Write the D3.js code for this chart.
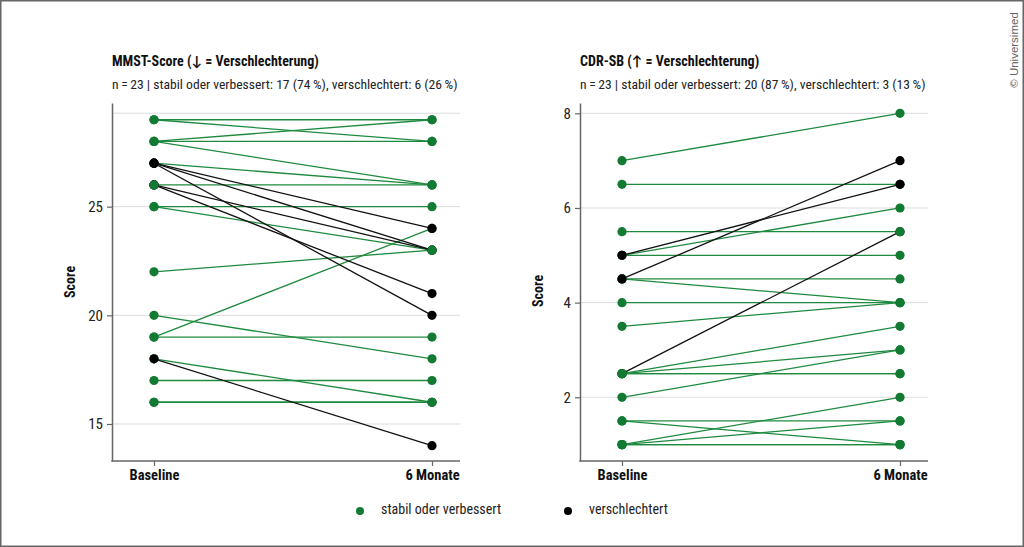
<!DOCTYPE html>
<html>
<head>
<meta charset="utf-8">
<script src="https://cdn.jsdelivr.net/npm/d3@7/dist/d3.min.js"></script>
<style>
    body { margin: 0; background: #fff; }
    text { font-family: "Liberation Sans Narrow", "Arial Narrow", "Roboto Condensed", Lato, sans-serif; }
</style>
</head>
<body>
<div class="chart-container"></div>
<script>
// Data
const timepoints = ["Baseline", "6 Monate"]

const mmstBaseline = [29, 29, 28, 28, 28, 27, 27, 26, 26, 26, 25, 25, 22, 19, 27, 27, 20, 19, 18, 18, 17, 16, 16]
const mmstMonth6   = [29, 28, 29, 28, 26, 26, 23, 23, 21, 26, 25, 23, 23, 24, 24, 20, 18, 19, 16, 14, 17, 16, 16]
const mmstStatus   = ["s", "s", "s", "s", "s", "s", "v", "v", "v", "s", "s", "s", "s", "s", "v", "v", "s", "s", "s", "v", "s", "s", "s"]

const cdrBaseline = [7, 6.5, 2.5, 5.5, 5, 5, 5, 4.5, 4.5, 4.5, 4, 3.5, 2.5, 2.5, 2.5, 2, 1.5, 1.5, 1, 1, 1, 1, 2.5]
const cdrMonth6   = [8, 6.5, 5.5, 5.5, 6, 5, 6.5, 4.5, 4, 7, 4, 4, 3.5, 3, 2.5, 3, 1.5, 1, 2, 1.5, 1, 1, 2.5]
const cdrStatus   = ["s", "s", "v", "s", "s", "s", "v", "s", "s", "v", "s", "s", "s", "s", "s", "s", "s", "s", "s", "s", "s", "s", "s"]

const mmstTicks = [15, 20, 25]
const mmstGrid = [15, 20, 25, 29.3]
const cdrTicks = [2, 4, 6, 8]

const legendKeys = ["s", "v"]
const legendLabels = ["stabil oder verbessert", "verschlechtert"]

let dimensions = {
    width: 1024,
    height: 547
}

const dotColor = { s: "#127a32", v: "#000000" }
const lineColor = { s: "#1f8a3f", v: "#111111" }

const svg = d3.select(".chart-container")
    .append('svg')
    .attr('width', dimensions.width)
    .attr('height', dimensions.height)

// Frame
svg.append('rect')
    .attr('x', 0.75)
    .attr('y', 0.75)
    .attr('width', dimensions.width - 1.5)
    .attr('height', dimensions.height - 1.5)
    .attr('fill', 'none')
    .attr('stroke', '#666')
    .attr('stroke-width', 1.5)

function drawPanel(cfg) {
    const data = cfg.baseline.map((b, i) => ({ b: b, m: cfg.month6[i], status: cfg.status[i] }))

    const yScale = d3.scaleLinear()
        .domain(cfg.domain)
        .range([cfg.bottom, cfg.top])

    const xScale = d3.scalePoint()
        .domain(timepoints)
        .range([cfg.left + 42, cfg.right - 28])

    const g = svg.append('g')

// Grid
    g.selectAll('.grid')
        .data(cfg.grid)
        .join('line')
        .attr('class', 'grid')
        .attr('x1', cfg.left)
        .attr('x2', cfg.right)
        .attr('y1', d => yScale(d))
        .attr('y2', d => yScale(d))
        .attr('stroke', '#dcdcdc')
        .attr('stroke-width', 1)

// Y Axis and Label
    const yAxis = d3.axisLeft(yScale)
        .tickValues(cfg.ticks)
        .tickSize(5)
        .tickSizeOuter(0)
        .tickPadding(4)

    const yAxisGroup = g.append('g')
        .attr('transform', `translate(${cfg.left},0)`)
        .call(yAxis)
    yAxisGroup.select('.domain').attr('stroke', '#666').attr('stroke-width', 1.5)
    yAxisGroup.selectAll('.tick line').attr('stroke', '#666').attr('stroke-width', 1.2)
    yAxisGroup.selectAll('.tick text')
        .attr('font-size', '15px')
        .attr('fill', '#222')

    g.append('text')
        .attr('transform', `translate(${cfg.left - 37},${cfg.labelY}) rotate(-90)`)
        .attr('font-size', '14px')
        .attr('font-weight', 'bold')
        .attr('text-anchor', 'middle')
        .attr('fill', '#111')
        .text('Score')

// X Axis
    const xAxis = d3.axisBottom(xScale)
        .tickSize(5)
        .tickSizeOuter(0)
        .tickPadding(4)

    const xAxisGroup = g.append('g')
        .attr('transform', `translate(0,${cfg.bottom})`)
        .call(xAxis)
    xAxisGroup.select('.domain').remove()
    xAxisGroup.selectAll('.tick line').attr('stroke', '#666').attr('stroke-width', 1.2)
    xAxisGroup.selectAll('.tick text')
        .attr('font-size', '14.5px')
        .attr('font-weight', 'bold')
        .attr('fill', '#111')

    g.append('line')
        .attr('x1', cfg.left - 0.75)
        .attr('x2', cfg.right)
        .attr('y1', cfg.bottom)
        .attr('y2', cfg.bottom)
        .attr('stroke', '#666')
        .attr('stroke-width', 1.5)

// Lines (green first, black on top)
    const sorted = data.filter(d => d.status === 's').concat(data.filter(d => d.status === 'v'))
    g.selectAll('.pair')
        .data(sorted)
        .join('line')
        .attr('class', 'pair')
        .attr('x1', xScale(timepoints[0]))
        .attr('x2', xScale(timepoints[1]))
        .attr('y1', d => yScale(d.b))
        .attr('y2', d => yScale(d.m))
        .attr('stroke', d => lineColor[d.status])
        .attr('stroke-width', 1.3)

// Dots
    const dots = []
    data.forEach(d => {
        dots.push({ t: timepoints[0], v: d.b, status: d.status })
        dots.push({ t: timepoints[1], v: d.m, status: d.status })
    })
    g.selectAll('.dot')
        .data(dots)
        .join('circle')
        .attr('class', 'dot')
        .attr('cx', d => xScale(d.t))
        .attr('cy', d => yScale(d.v))
        .attr('r', 4.6)
        .attr('fill', d => dotColor[d.status])

// Title
    g.append('text')
        .attr('x', cfg.left)
        .attr('y', 66)
        .attr('font-size', '14px')
        .attr('font-weight', 'bold')
        .attr('fill', '#111')
        .text(cfg.title)

    g.append('text')
        .attr('x', cfg.left)
        .attr('y', 89)
        .attr('font-size', '13.6px')
        .attr('fill', '#222')
        .text(cfg.subtitle)
}

drawPanel({
    baseline: mmstBaseline, month6: mmstMonth6, status: mmstStatus,
    ticks: mmstTicks, grid: mmstGrid, domain: [13.297, 29.77],
    left: 112, right: 460, top: 103, bottom: 461, labelY: 282,
    title: "MMST-Score (\u2193 = Verschlechterung)",
    subtitle: "n\u2009=\u200923 | stabil oder verbessert: 17 (74\u2009%), verschlechtert: 6 (26\u2009%)"
})

drawPanel({
    baseline: cdrBaseline, month6: cdrMonth6, status: cdrStatus,
    ticks: cdrTicks, grid: cdrTicks, domain: [0.654, 8.218],
    left: 580, right: 928, top: 103, bottom: 461, labelY: 291,
    title: "CDR-SB (\u2191 = Verschlechterung)",
    subtitle: "n\u2009=\u200923 | stabil oder verbessert: 20 (87\u2009%), verschlechtert: 3 (13\u2009%)"
})

// Legend
const legendX = d3.scaleOrdinal().domain(legendKeys).range([360, 568])

const legend = svg.append('g')
legend.selectAll('circle')
    .data(legendKeys)
    .join('circle')
    .attr('cx', d => legendX(d))
    .attr('cy', 511)
    .attr('r', 4)
    .attr('fill', d => dotColor[d])

legend.selectAll('text')
    .data(legendKeys)
    .join('text')
    .attr('x', d => legendX(d) + 21)
    .attr('y', 514)
    .attr('font-size', '14px')
    .attr('fill', '#222')
    .text((d, i) => legendLabels[i])

// Watermark
svg.append('text')
    .attr('transform', 'translate(1018,50) rotate(-90)')
    .attr('text-anchor', 'middle')
    .attr('font-size', '11.5px')
    .attr('fill', '#666')
    .style('font-family', '"Liberation Sans", Arial, sans-serif')
    .text('\u00a9 Universimed')
</script>
</body>
</html>
